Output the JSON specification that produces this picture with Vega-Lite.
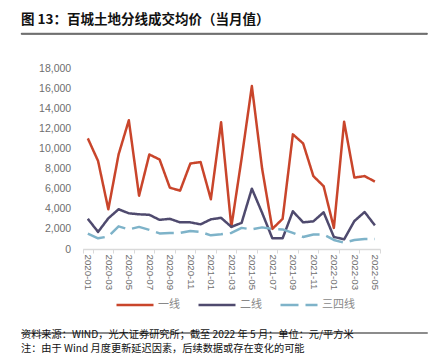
{
  "$schema": "https://vega.github.io/schema/vega-lite/v6.json",
  "background": "white",
  "padding": {"left": 16, "right": 18, "top": 12, "bottom": 2},
  "config": {"view": {"stroke": null}, "font": "Noto Sans CJK SC"},
  "columns": 1,
  "spacing": 28,
  "concat": [
    {
      "width": 406,
      "height": 1,
      "view": {"stroke": "#333333", "strokeWidth": 0.8},
      "title": {"text": "图 13：百城土地分线成交均价（当月值）", "anchor": "start", "fontSize": 13.5, "fontWeight": "bold", "color": "#111111", "offset": 7, "font": "Noto Sans CJK SC"},
      "data": {"values": []},
      "mark": "point"
    },
    {
      "columns": 1,
      "spacing": 39,
      "concat": [
        {
          "width": 406,
          "height": 181,
          "data": {"values": [
            {"month": "2020-01", "series": "一线", "value": 11000},
            {"month": "2020-02", "series": "一线", "value": 8750},
            {"month": "2020-03", "series": "一线", "value": 3950},
            {"month": "2020-04", "series": "一线", "value": 9400},
            {"month": "2020-05", "series": "一线", "value": 12800},
            {"month": "2020-06", "series": "一线", "value": 5300},
            {"month": "2020-07", "series": "一线", "value": 9400},
            {"month": "2020-08", "series": "一线", "value": 8900},
            {"month": "2020-09", "series": "一线", "value": 6100},
            {"month": "2020-10", "series": "一线", "value": 5800},
            {"month": "2020-11", "series": "一线", "value": 8500},
            {"month": "2020-12", "series": "一线", "value": 8650},
            {"month": "2021-01", "series": "一线", "value": 4950},
            {"month": "2021-02", "series": "一线", "value": 12600},
            {"month": "2021-03", "series": "一线", "value": 2200},
            {"month": "2021-04", "series": "一线", "value": 9000},
            {"month": "2021-05", "series": "一线", "value": 16200},
            {"month": "2021-06", "series": "一线", "value": 8000},
            {"month": "2021-07", "series": "一线", "value": 2000},
            {"month": "2021-08", "series": "一线", "value": 3000},
            {"month": "2021-09", "series": "一线", "value": 11400},
            {"month": "2021-10", "series": "一线", "value": 10500},
            {"month": "2021-11", "series": "一线", "value": 7250},
            {"month": "2021-12", "series": "一线", "value": 6250},
            {"month": "2022-01", "series": "一线", "value": 2100},
            {"month": "2022-02", "series": "一线", "value": 12650},
            {"month": "2022-03", "series": "一线", "value": 7100},
            {"month": "2022-04", "series": "一线", "value": 7250},
            {"month": "2022-05", "series": "一线", "value": 6700},
            {"month": "2020-01", "series": "二线", "value": 3000},
            {"month": "2020-02", "series": "二线", "value": 1700},
            {"month": "2020-03", "series": "二线", "value": 3050},
            {"month": "2020-04", "series": "二线", "value": 3950},
            {"month": "2020-05", "series": "二线", "value": 3550},
            {"month": "2020-06", "series": "二线", "value": 3450},
            {"month": "2020-07", "series": "二线", "value": 3400},
            {"month": "2020-08", "series": "二线", "value": 2900},
            {"month": "2020-09", "series": "二线", "value": 3000},
            {"month": "2020-10", "series": "二线", "value": 2650},
            {"month": "2020-11", "series": "二线", "value": 2650},
            {"month": "2020-12", "series": "二线", "value": 2450},
            {"month": "2021-01", "series": "二线", "value": 2950},
            {"month": "2021-02", "series": "二线", "value": 3100},
            {"month": "2021-03", "series": "二线", "value": 2200},
            {"month": "2021-04", "series": "二线", "value": 2600},
            {"month": "2021-05", "series": "二线", "value": 6000},
            {"month": "2021-06", "series": "二线", "value": 3600},
            {"month": "2021-07", "series": "二线", "value": 1060},
            {"month": "2021-08", "series": "二线", "value": 1060},
            {"month": "2021-09", "series": "二线", "value": 3750},
            {"month": "2021-10", "series": "二线", "value": 2650},
            {"month": "2021-11", "series": "二线", "value": 2750},
            {"month": "2021-12", "series": "二线", "value": 3650},
            {"month": "2022-01", "series": "二线", "value": 1200},
            {"month": "2022-02", "series": "二线", "value": 960},
            {"month": "2022-03", "series": "二线", "value": 2780},
            {"month": "2022-04", "series": "二线", "value": 3680},
            {"month": "2022-05", "series": "二线", "value": 2350},
            {"month": "2020-01", "series": "三四线", "value": 1520},
            {"month": "2020-02", "series": "三四线", "value": 1060},
            {"month": "2020-03", "series": "三四线", "value": 1250},
            {"month": "2020-04", "series": "三四线", "value": 2250},
            {"month": "2020-05", "series": "三四线", "value": 1950},
            {"month": "2020-06", "series": "三四线", "value": 2200},
            {"month": "2020-07", "series": "三四线", "value": 1900},
            {"month": "2020-08", "series": "三四线", "value": 1550},
            {"month": "2020-09", "series": "三四线", "value": 1600},
            {"month": "2020-10", "series": "三四线", "value": 1600},
            {"month": "2020-11", "series": "三四线", "value": 1800},
            {"month": "2020-12", "series": "三四线", "value": 1700},
            {"month": "2021-01", "series": "三四线", "value": 1360},
            {"month": "2021-02", "series": "三四线", "value": 1460},
            {"month": "2021-03", "series": "三四线", "value": 1600},
            {"month": "2021-04", "series": "三四线", "value": 2100},
            {"month": "2021-05", "series": "三四线", "value": 1950},
            {"month": "2021-06", "series": "三四线", "value": 2150},
            {"month": "2021-07", "series": "三四线", "value": 2000},
            {"month": "2021-08", "series": "三四线", "value": 1950},
            {"month": "2021-09", "series": "三四线", "value": 1600},
            {"month": "2021-10", "series": "三四线", "value": 1200},
            {"month": "2021-11", "series": "三四线", "value": 1450},
            {"month": "2021-12", "series": "三四线", "value": 1450},
            {"month": "2022-01", "series": "三四线", "value": 900},
            {"month": "2022-02", "series": "三四线", "value": 630},
            {"month": "2022-03", "series": "三四线", "value": 900},
            {"month": "2022-04", "series": "三四线", "value": 1000},
            {"month": "2022-05", "series": "三四线", "value": 1000}
          ]},
          "mark": {"type": "line", "strokeWidth": 2.5, "strokeJoin": "round"},
          "encoding": {
            "x": {
              "field": "month", "type": "ordinal", "sort": null,
              "scale": {"type": "band", "paddingInner": 0, "paddingOuter": 0, "range": [61.7, 359]},
              "axis": {
                "title": null,
                "values": ["2020-01","2020-03","2020-05","2020-07","2020-09","2020-11","2021-01","2021-03","2021-05","2021-07","2021-09","2021-11","2022-01","2022-03","2022-05"],
                "labelAngle": 90, "labelAlign": "left", "labelBaseline": "middle",
                "tickBand": "extent", "domainColor": "#d9d9d9", "domainWidth": 1.5,
                "tickColor": "#d9d9d9", "tickSize": 4, "tickWidth": 1,
                "labelColor": "#6e6e6e", "labelFont": "Liberation Sans", "labelFontSize": 9.7, "labelPadding": 1
              }
            },
            "y": {
              "field": "value", "type": "quantitative",
              "scale": {"domain": [0, 18000]},
              "axis": {
                "title": null, "values": [0, 2000, 4000, 6000, 8000, 10000, 12000, 14000, 16000, 18000],
                "format": ",.0f", "domain": false, "ticks": false, "grid": false, "offset": -61.7,
                "labelColor": "#6e6e6e", "labelFont": "Liberation Sans", "labelFontSize": 10.5,
                "labelPadding": 12
              }
            },
            "color": {
              "field": "series", "type": "nominal", "sort": null,
              "scale": {"domain": ["一线", "二线", "三四线"], "range": ["#C9452B", "#4F4A6E", "#7EB3C9"]},
              "legend": {
                "title": null, "orient": "none", "direction": "horizontal", "legendX": 94, "legendY": 252,
                "symbolType": "stroke", "symbolSize": 1369, "symbolStrokeWidth": 2.5,
                "labelColor": "#888888", "labelFontSize": 11, "labelFont": "Noto Sans CJK SC", "labelOffset": 3, "columnPadding": 13
              }
            },
            "strokeDash": {
              "field": "series", "type": "nominal", "sort": null,
              "scale": {"domain": ["一线", "二线", "三四线"], "range": [[1, 0], [1, 0], [18, 7]]},
              "legend": {
                "title": null, "orient": "none", "direction": "horizontal", "legendX": 94, "legendY": 252,
                "symbolType": "stroke", "symbolSize": 1369, "symbolStrokeWidth": 2.5,
                "labelColor": "#888888", "labelFontSize": 11, "labelFont": "Noto Sans CJK SC", "labelOffset": 3, "columnPadding": 13
              }
            }
          }
        },
        {
          "width": 406,
          "height": 1,
          "view": {"stroke": "#8c8c8c", "strokeWidth": 1},
          "title": {
            "text": ["资料来源：WIND，光大证券研究所；截至 2022 年 5 月；单位：元/平方米", "注：由于 Wind 月度更新延迟因素，后续数据或存在变化的可能"],
            "orient": "bottom", "anchor": "start", "fontSize": 10.2, "fontWeight": "normal", "color": "#111111",
            "lineHeight": 14, "offset": -3, "font": "Noto Sans CJK SC"
          },
          "data": {"values": []},
          "mark": "point"
        }
      ]
    }
  ]
}
